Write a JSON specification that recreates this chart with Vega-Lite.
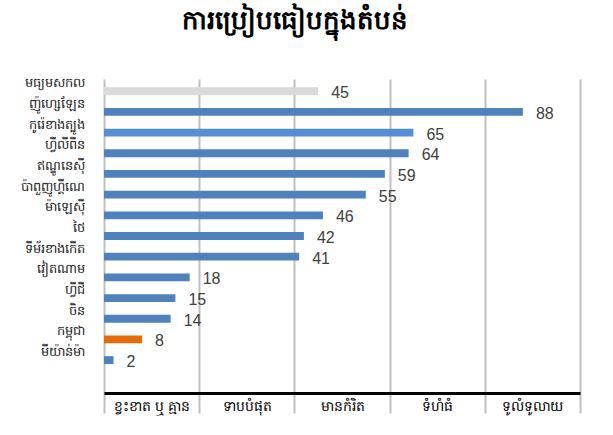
{
  "$schema": "https://vega.github.io/schema/vega-lite/v6.json",
  "width": 476,
  "height": 314,
  "autosize": {"type": "none"},
  "padding": {"left": 104, "top": 79, "right": 33, "bottom": 42},
  "background": "white",
  "title": {"text": "ការប្រៀបធៀបក្នុងតំបន់", "fontSize": 26, "fontWeight": 900, "color": "black", "offset": 43, "anchor": "middle", "frame": "group", "dx": -47},
  "config": {"view": {"stroke": null}, "font": "Noto Sans"},
  "data": {"values": [
    {"country": "មធ្យមសកល", "value": 45, "kind": "average"},
    {"country": "ញ៉ូហ្សេឡែន", "value": 88, "kind": "country"},
    {"country": "កូរ៉េខាងត្បូង", "value": 65, "kind": "country2"},
    {"country": "ហ្វីលីពីន", "value": 64, "kind": "country"},
    {"country": "ឥណ្ឌូនេស៊ី", "value": 59, "kind": "country"},
    {"country": "ប៉ាពួញូហ្គីណេ", "value": 55, "kind": "country"},
    {"country": "ម៉ាឡេស៊ី", "value": 46, "kind": "country"},
    {"country": "ថៃ", "value": 42, "kind": "country"},
    {"country": "ទីម័រខាងកើត", "value": 41, "kind": "country"},
    {"country": "វៀតណាម", "value": 18, "kind": "country"},
    {"country": "ហ្វីជី", "value": 15, "kind": "country"},
    {"country": "ចិន", "value": 14, "kind": "country"},
    {"country": "កម្ពុជា", "value": 8, "kind": "cambodia"},
    {"country": "មីយ៉ាន់ម៉ា", "value": 2, "kind": "country"}
  ]},
  "encoding": {
    "y": {"field": "country", "type": "nominal", "sort": null,
      "scale": {"domain": ["មធ្យមសកល", "ញ៉ូហ្សេឡែន", "កូរ៉េខាងត្បូង", "ហ្វីលីពីន", "ឥណ្ឌូនេស៊ី", "ប៉ាពួញូហ្គីណេ", "ម៉ាឡេស៊ី", "ថៃ", "ទីម័រខាងកើត", "វៀតណាម", "ហ្វីជី", "ចិន", "កម្ពុជា", "មីយ៉ាន់ម៉ា", " "], "paddingInner": 0.62, "paddingOuter": 0.4},
      "axis": {"title": null, "domain": false, "ticks": false, "grid": false, "labelPadding": 20, "labelFontSize": 13, "labelColor": "#222222", "labelOffset": -8}
    },
    "x": {"field": "value", "type": "quantitative",
      "scale": {"domain": [0, 100], "nice": false},
      "axis": {"title": null, "values": [0, 10, 20, 30, 40, 50, 60, 70, 80, 90, 100],
        "labelExpr": "datum.value == 10 ? 'ខ្វះខាត ឬ គ្មាន' : datum.value == 30 ? 'ទាបបំផុត' : datum.value == 50 ? 'មានកំរិត' : datum.value == 70 ? 'ទំហំធំ' : datum.value == 90 ? 'ទូលំទូលាយ' : ''",
        "grid": true, "gridColor": "#bfbfbf", "gridWidth": 2,
        "gridOpacity": {"condition": {"test": "datum.value % 20 === 0", "value": 1}, "value": 0},
        "ticks": true, "tickSize": 20, "tickWidth": 2, "tickColor": "#bfbfbf",
        "tickOpacity": {"condition": {"test": "datum.value % 20 === 0", "value": 1}, "value": 0},
        "domainColor": "black", "domainWidth": 3,
        "labelFontSize": 14, "labelColor": "black", "labelPadding": -14, "labelFlush": false, "labelOverlap": false
      }
    }
  },
  "layer": [
    {"mark": {"type": "bar"},
      "encoding": {"color": {"field": "kind", "type": "nominal", "legend": null,
        "scale": {"domain": ["average", "country", "country2", "cambodia"], "range": ["#d9d9d9", "#4f81bd", "#558ed5", "#e46c0a"]}}}},
    {"mark": {"type": "text", "align": "left", "baseline": "middle", "dx": 13, "dy": 2, "fontSize": 16, "color": "#404040", "font": "Liberation Sans"},
      "encoding": {"text": {"field": "value", "type": "quantitative"}}}
  ]
}
